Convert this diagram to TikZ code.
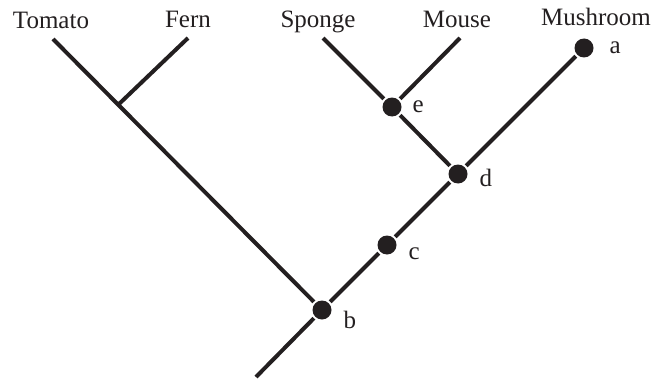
\documentclass[tikz,border=0pt]{standalone}
\usepackage{fontspec}
\setmainfont{Liberation Serif}
\usepackage{xcolor}
\usetikzlibrary{positioning}
\definecolor{ink}{RGB}{35,31,32}

\begin{document}
\begin{tikzpicture}[x=1pt,y=1pt,color=ink,line width=4pt,
    dot/.style={circle,fill=ink,inner sep=0pt,minimum size=19pt},
    taxon/.style={font=\fontsize{25}{30}\selectfont,inner sep=0pt,text depth=0pt},
    lbl/.style={font=\fontsize{25}{30}\selectfont,inner sep=0pt,text depth=0pt}]
  \useasboundingbox (0,0) rectangle (658,381);
  \coordinate (root) at (256,4);
  \coordinate (tomato) at (53,342);
  \coordinate (split) at (119,277);
  \coordinate (fern) at (188,343);
  \coordinate (sponge) at (323,343);
  \coordinate (mouse) at (460,343);
  \draw node[dot] (b) at (322,71) {};
  \draw node[dot] (c) at (387,136) {};
  \draw node[dot] (d) at (458,207) {};
  \draw node[dot] (e) at (392,274) {};
  \draw node[dot] (a) at (584,333) {};
  \draw (root) -- (b) -- (c) -- (d) -- (a);
  \draw (tomato) -- (b);
  \draw (split) -- (fern);
  \draw (sponge) -- (e) -- (d);
  \draw (e) -- (mouse);
  \draw node[taxon,above=8pt of tomato,xshift=-2pt] (ltomato) {Tomato};
  \draw node[taxon,above=8pt of fern] (lfern) {Fern};
  \draw node[taxon,above=8pt of sponge,xshift=-5pt] (lsponge) {Sponge};
  \draw node[taxon,above=8pt of mouse,xshift=-3pt] (lmouse) {Mouse};
  \draw node[taxon,above=8.5pt of a,xshift=12pt] (lmushroom) {Mushroom};
  \draw node[lbl,right=12pt of a] (la) {a};
  \draw node[lbl,right=8pt of b,yshift=-10pt] (lb) {b};
  \draw node[lbl,right=8pt of c,yshift=-9pt] (lc) {c};
  \draw node[lbl,right=8pt of d,yshift=-4pt] (ld) {d};
  \draw node[lbl,right=7pt of e] (le) {e};
\end{tikzpicture}
\end{document}
